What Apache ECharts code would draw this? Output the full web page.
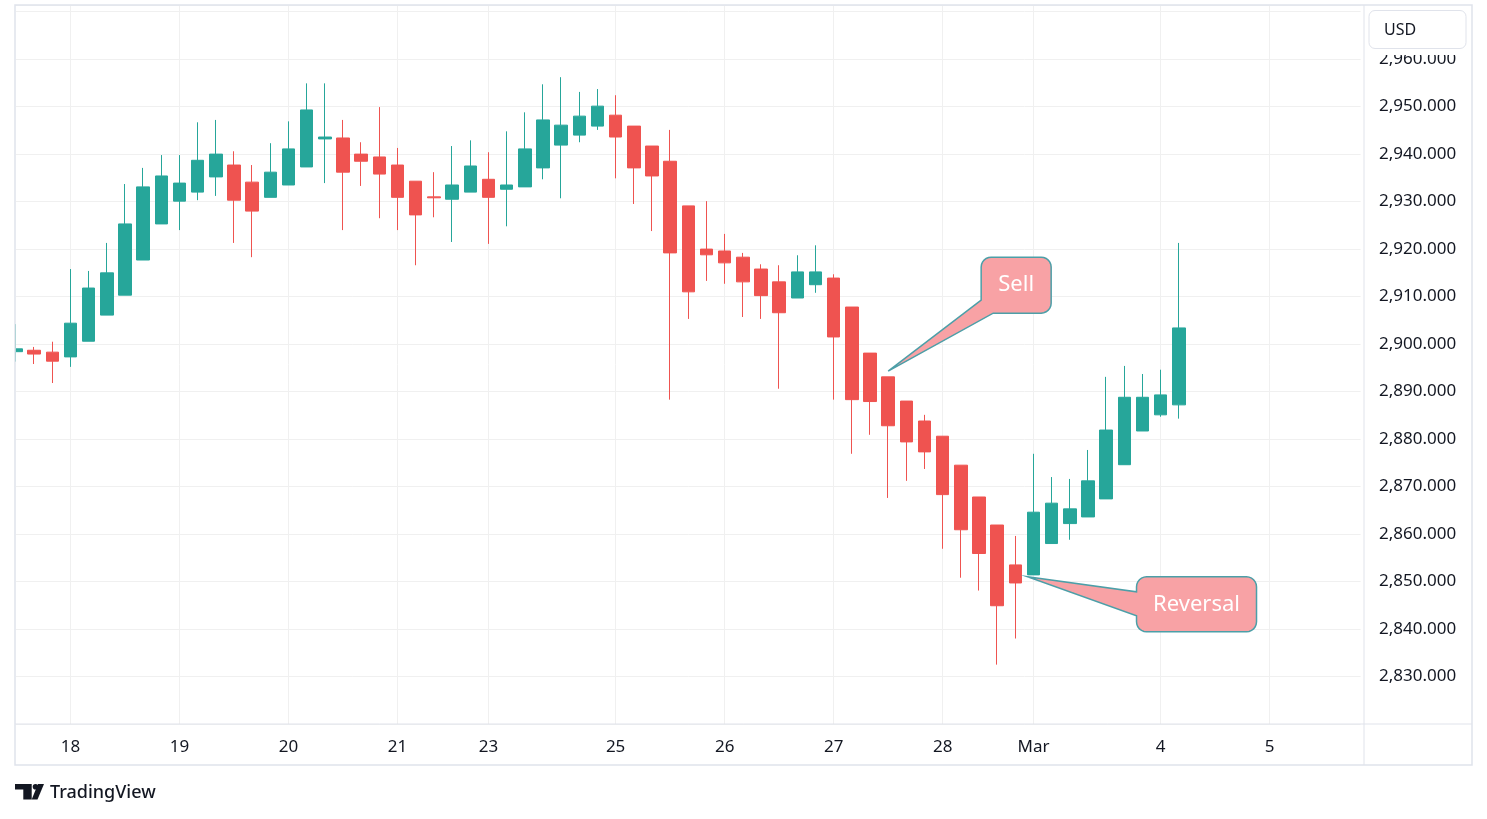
<!DOCTYPE html>
<html>
<head>
<meta charset="utf-8">
<title>Gold 4H</title>
<script src="https://cdn.jsdelivr.net/npm/echarts@6/dist/echarts.min.js"></script>
<style>
  html, body { margin: 0; padding: 0; background: #fff; }
  #main { width: 1487px; height: 819px; }
</style>
</head>
<body>
<div id="main"></div>
<script>
// 4h candles, 17 Feb - 4 Mar
var opens  = [2898.4, 2898.7, 2898.3, 2897.3, 2900.6, 2906.1, 2910.3, 2917.7, 2925.3, 2930.1,
              2932.0, 2935.2, 2937.7, 2934.1, 2930.9, 2933.5, 2937.3, 2943.2, 2943.4, 2940.0,
              2939.4, 2937.7, 2934.3, 2931.0, 2930.5, 2932.0, 2934.7, 2932.6, 2933.1, 2937.1,
              2941.9, 2944.0, 2945.9, 2948.2, 2945.9, 2941.7, 2938.5, 2929.1, 2920.0, 2919.6,
              2918.3, 2915.8, 2913.1, 2909.7, 2912.5, 2913.9, 2907.8, 2898.1, 2893.1, 2888.0,
              2883.8, 2880.6, 2874.5, 2867.8, 2861.9, 2853.5, 2851.4, 2858.0, 2862.2, 2863.6,
              2867.4, 2874.6, 2881.7, 2885.1, 2887.2];
var closes = [2899.0, 2897.9, 2896.4, 2904.4, 2911.8, 2915.0, 2925.3, 2933.1, 2935.4, 2933.9,
              2938.7, 2940.0, 2930.3, 2928.0, 2936.2, 2941.1, 2949.3, 2943.6, 2936.2, 2938.5,
              2935.8, 2930.9, 2927.2, 2930.8, 2933.5, 2937.5, 2930.9, 2933.5, 2941.1, 2947.2,
              2946.1, 2948.0, 2950.1, 2943.6, 2937.1, 2935.4, 2919.2, 2911.0, 2918.8, 2917.1,
              2913.1, 2910.2, 2906.6, 2915.2, 2915.2, 2901.5, 2888.3, 2887.9, 2882.8, 2879.4,
              2877.3, 2868.3, 2860.9, 2855.9, 2844.9, 2849.7, 2864.6, 2866.5, 2865.3, 2871.2,
              2881.9, 2888.8, 2888.8, 2889.3, 2903.4];
var lows   = [2896.3, 2895.8, 2891.8, 2895.2, 2900.6, 2906.1, 2910.3, 2917.7, 2925.3, 2924.0,
              2930.3, 2931.2, 2921.3, 2918.3, 2930.9, 2933.5, 2937.3, 2933.9, 2924.0, 2933.3,
              2926.5, 2924.0, 2916.6, 2926.7, 2921.5, 2932.0, 2921.1, 2924.8, 2933.1, 2934.7,
              2930.7, 2942.5, 2945.1, 2934.9, 2929.5, 2923.8, 2888.3, 2905.3, 2913.3, 2912.7,
              2905.7, 2905.3, 2890.6, 2909.7, 2910.8, 2888.3, 2876.9, 2880.9, 2867.6, 2871.2,
              2873.7, 2856.9, 2850.8, 2848.1, 2832.5, 2838.0, 2851.4, 2858.0, 2858.8, 2863.6,
              2867.4, 2874.6, 2881.7, 2884.7, 2884.3];
var highs  = [2904.2, 2899.4, 2900.5, 2915.8, 2915.4, 2921.3, 2933.7, 2937.1, 2939.8, 2939.8,
              2946.7, 2947.2, 2940.6, 2937.7, 2942.3, 2946.9, 2954.9, 2954.9, 2947.2, 2942.5,
              2949.9, 2941.3, 2934.3, 2936.2, 2941.7, 2942.9, 2940.4, 2944.8, 2948.8, 2954.7,
              2956.2, 2953.1, 2953.7, 2952.4, 2945.9, 2941.7, 2945.1, 2929.1, 2930.1, 2923.2,
              2919.2, 2916.8, 2916.6, 2918.7, 2920.8, 2914.7, 2907.8, 2898.1, 2893.1, 2888.0,
              2885.1, 2880.6, 2874.5, 2867.8, 2861.9, 2859.6, 2876.9, 2872.0, 2871.6, 2877.7,
              2893.1, 2895.4, 2893.7, 2894.6, 2921.3];

// first candle of each labelled day (slot index on the time axis)
var dayIndex  = [3, 9, 15, 21, 26, 33, 39, 45, 51, 56, 63, 69];
var dayLabels = ['18', '19', '20', '21', '23', '25', '26', '27', '28', 'Mar', '4', '5'];

var slotCount = 75;           // candles plus empty room on the right
var priceMin = 2820, priceMax = 2971.4, priceStep = 10, priceTopLabel = 2960;

var TEXT = '#131722';
var GRID = '#f0f0f0';
var FRAME = '#e0e3eb';
var FONT = '"Noto Sans", "DejaVu Sans", sans-serif';

// panel box (plot | price scale | time scale)
var L = 15, T = 5, R = 1364, B = 724;
var frameR = 1472, frameB = 765;
var slotW = 18.17;
var plotLeft = 16, plotWidth = slotW * (slotCount - 1);

var slots = [];
for (var i = 0; i < slotCount; i++) slots.push(String(i));

var candles = opens.map(function (o, i) {
    return [o, closes[i], lows[i], highs[i]];
});

function isDay(idx) {
    return dayIndex.indexOf(idx) >= 0;
}

var chart = echarts.init(document.getElementById('main'));

var option = {
    animation: false,
    backgroundColor: '#fff',
    grid: { left: plotLeft, top: T, width: plotWidth, height: B - T },
    xAxis: {
        type: 'category',
        data: slots,
        boundaryGap: false,
        axisLine: { show: false },
        axisTick: { show: false },
        axisLabel: {
            interval: function (idx) { return isDay(idx); },
            formatter: function (v) { return dayLabels[dayIndex.indexOf(+v)] || ''; },
            color: TEXT,
            fontSize: 17,
            fontFamily: FONT,
            margin: 15
        },
        splitLine: {
            show: true,
            interval: function (idx) { return isDay(idx); },
            lineStyle: { color: GRID, width: 1 }
        }
    },
    yAxis: {
        type: 'value',
        position: 'right',
        min: priceMin,
        max: priceMax,
        interval: priceStep,
        axisLine: { show: false },
        axisTick: { show: false },
        splitLine: { lineStyle: { color: GRID, width: 1 } },
        axisLabel: {
            showMinLabel: false,
            showMaxLabel: false,
            margin: 1379 - (plotLeft + plotWidth),
            color: TEXT,
            fontSize: 17,
            fontFamily: FONT,
            padding: [0, 0, 5, 0],
            formatter: function (v) {
                if (v > priceTopLabel) return '';
                return v.toLocaleString('en-US', { minimumFractionDigits: 3, maximumFractionDigits: 3 });
            }
        }
    },
    series: [{
        type: 'candlestick',
        data: candles,
        barWidth: 13,
        clip: true,
        itemStyle: {
            color: '#26a69a',
            color0: '#ef5350',
            borderColor: '#26a69a',
            borderColor0: '#ef5350',
            borderWidth: 1
        }
    }]
};
chart.setOption(option);

// rounded corner points
function arc(cx, cy, r, a0, a1) {
    var pts = [];
    for (var k = 0; k <= 6; k++) {
        var a = (a0 + (a1 - a0) * k / 6) * Math.PI / 180;
        pts.push([cx + r * Math.cos(a), cy + r * Math.sin(a)]);
    }
    return pts;
}

var CALL_FILL = '#f8a2a5';
var CALL_LINE = '#4c9fa8';

// "Sell": box up-right of the tip, tail from its lower-left corner
function sellCallout(tip, text) {
    var x0 = tip[0] + 93, x1 = tip[0] + 163, y0 = tip[1] - 114, y1 = tip[1] - 58, r = 10;
    var pts = [].concat(
        arc(x0 + r, y0 + r, r, 180, 270),
        arc(x1 - r, y0 + r, r, 270, 360),
        arc(x1 - r, y1 - r, r, 0, 90),
        [[x0 + 12, y1], tip, [x0, y1 - 13]]
    );
    return callout(pts, (x0 + x1) / 2, (y0 + y1) / 2, text);
}

// "Reversal": box to the right, tail from its left side
function reversalCallout(tip, text) {
    var x0 = tip[0] + 109, x1 = tip[0] + 229, y0 = tip[1], y1 = tip[1] + 55, r = 10;
    var pts = [].concat(
        arc(x0 + r, y0 + r, r, 180, 270),
        arc(x1 - r, y0 + r, r, 270, 360),
        arc(x1 - r, y1 - r, r, 0, 90),
        arc(x0 + r, y1 - r, r, 90, 180),
        [[x0, y1 - 16], tip, [x0, y0 + 15]]
    );
    return callout(pts, (x0 + x1) / 2, (y0 + y1) / 2, text);
}

function callout(pts, cx, cy, text) {
    return [
        { type: 'polygon', z: 50, shape: { points: pts },
          style: { fill: CALL_FILL, stroke: CALL_LINE, lineWidth: 1.5 } },
        { type: 'text', z: 51, x: cx, y: cy,
          style: { text: text, fill: '#fff', font: '22px ' + FONT,
                   align: 'center', verticalAlign: 'middle',
                   textAlign: 'center', textVerticalAlign: 'middle' } }
    ];
}

var sellTip = chart.convertToPixel({ gridIndex: 0 }, ['48', 2894.3]);
var revTip = chart.convertToPixel({ gridIndex: 0 }, ['56', 2851.0]);
revTip[0] -= 6;

var frame = [
    // mask whatever of the first candle pokes out left of the panel
    { type: 'rect', z: 39, shape: { x: 0, y: T, width: L, height: B - T },
      style: { fill: '#fff' } },
    { type: 'rect', z: 40, shape: { x: L, y: T, width: frameR - L, height: frameB - T },
      style: { fill: 'none', stroke: FRAME, lineWidth: 1.5 } },
    { type: 'line', z: 40, shape: { x1: R, y1: T, x2: R, y2: frameB },
      style: { stroke: FRAME, lineWidth: 1 } },
    { type: 'line', z: 40, shape: { x1: L, y1: B, x2: frameR, y2: B },
      style: { stroke: FRAME, lineWidth: 1 } },
    // currency badge over the top price label
    { type: 'rect', z: 60, shape: { x: R + 2, y: T + 2, width: frameR - R - 4, height: 48 },
      style: { fill: '#fff' } },
    { type: 'rect', z: 61, shape: { x: 1369, y: 10.5, width: 97, height: 38, r: 6 },
      style: { fill: '#fff', stroke: FRAME, lineWidth: 1 } },
    { type: 'text', z: 62, x: 1384, y: 30,
      style: { text: 'USD', fill: TEXT, font: '16px ' + FONT,
               verticalAlign: 'middle', textVerticalAlign: 'middle' } },
    // logo
    { type: 'polygon', z: 40, shape: { points: [[15, 784], [31.7, 784], [31.7, 799.5], [23.3, 799.5], [23.3, 789.5], [15, 789.5]] },
      style: { fill: TEXT } },
    { type: 'circle', z: 40, shape: { cx: 35.5, cy: 786.8, r: 2.8 }, style: { fill: TEXT } },
    { type: 'polygon', z: 40, shape: { points: [[38, 784], [44, 784], [37.5, 799.5], [31.7, 799.5]] },
      style: { fill: TEXT } },
    { type: 'text', z: 40, x: 50, y: 793,
      style: { text: 'TradingView', fill: TEXT, font: '500 18px ' + FONT,
               verticalAlign: 'middle', textVerticalAlign: 'middle' } }
];

chart.setOption({
    graphic: frame
        .concat(sellCallout(sellTip, 'Sell'))
        .concat(reversalCallout(revTip, 'Reversal'))
});
</script>
</body>
</html>
